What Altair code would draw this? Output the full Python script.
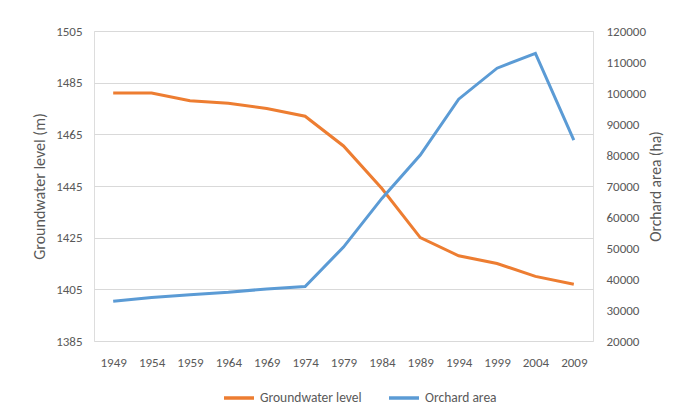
import altair as alt
import pandas as pd

years = [1949, 1954, 1959, 1964, 1969, 1974, 1979, 1984, 1989, 1994, 1999, 2004, 2009]
groundwater = [1481, 1481, 1478, 1477, 1475, 1472, 1460.5, 1444, 1425, 1418, 1415, 1410, 1407]
orchard = [32800, 34000, 34900, 35700, 36800, 37600, 50300, 66000, 80000, 98000, 108000, 112800, 84800]
series = ["Groundwater level", "Orchard area"]
left_ticks = [1385, 1405, 1425, 1445, 1465, 1485, 1505]
right_ticks = [20000, 30000, 40000, 50000, 60000, 70000, 80000, 90000, 100000, 110000, 120000]

df = pd.DataFrame({"year": [str(y) for y in years], "gw": groundwater, "orch": orchard})

FONT = "Carlito, Lato, Liberation Sans Narrow, Open Sans, sans-serif"
TXT = "#595959"

color = alt.Color(
    "series:N",
    scale=alt.Scale(domain=series, range=["#ED7D31", "#5B9BD5"]),
    legend=alt.Legend(
        title=None, orient="none", legendX=128, legendY=350, direction="horizontal",
        symbolType="stroke", symbolSize=900, symbolStrokeWidth=3.5,
        labelFont=FONT, labelFontSize=13.5, labelColor=TXT, columnPadding=20, labelOffset=4,
    ),
)

x = alt.X(
    "year:O", sort=None, title=None,
    scale=alt.Scale(padding=0.5),
    axis=alt.Axis(labelAngle=0, domain=False, ticks=False, labelPadding=15, grid=False,
                  labelFont=FONT, labelFontSize=13, labelColor=TXT),
)

base = alt.Chart(df)

gw_line = base.transform_calculate(series="'Groundwater level'").mark_line(strokeWidth=3).encode(
    x=x,
    y=alt.Y("gw:Q", scale=alt.Scale(domain=[1385, 1505], nice=False, zero=False),
            axis=alt.Axis(values=left_ticks, format="d", title="Groundwater level (m)", grid=True,
                          gridColor="#D9D9D9", domain=False, ticks=False, labelPadding=12, titlePadding=8,
                          labelFont=FONT, labelFontSize=13, labelColor=TXT,
                          titleFont=FONT, titleFontSize=16, titleColor=TXT, titleFontWeight="normal")),
    color=color,
)

or_line = base.transform_calculate(series="'Orchard area'").mark_line(strokeWidth=3).encode(
    x=x,
    y=alt.Y("orch:Q", scale=alt.Scale(domain=[20000, 120000], nice=False, zero=False),
            axis=alt.Axis(orient="right", values=right_ticks, format="d", title="Orchard area (ha)", grid=False,
                          domain=False, ticks=False, labelPadding=13, titlePadding=18, titleAngle=270,
                          labelFont=FONT, labelFontSize=13, labelColor=TXT,
                          titleFont=FONT, titleFontSize=15.5, titleColor=TXT, titleFontWeight="normal")),
    color=color,
)

chart = alt.layer(gw_line, or_line).resolve_scale(y="independent").properties(
    width=499, height=310,
    autosize=alt.AutoSizeParams(type="none"),
    padding={"left": 86, "top": 23, "right": 74, "bottom": 70},
).configure_view(stroke=None).configure(background="white")

chart.save("out.html", embed_options={"renderer": "svg", "actions": False})
